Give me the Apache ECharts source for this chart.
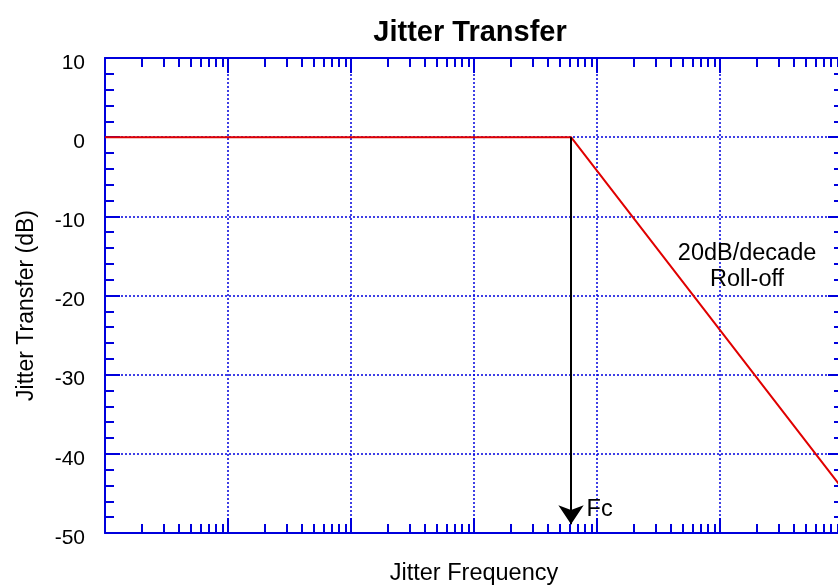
<!DOCTYPE html>
<html>
<head>
<meta charset="utf-8">
<script src="https://cdn.jsdelivr.net/npm/echarts@6/dist/echarts.min.js"></script>
<style>
  html, body { margin: 0; padding: 0; background: #fff; overflow: hidden; }
  /* the original plot runs a few pixels past the right edge of the picture */
  #wrap { width: 838px; height: 587px; overflow: hidden; position: relative; }
  #main { width: 845px; height: 587px; }
</style>
</head>
<body>
<div id="wrap"><div id="main"></div></div>
<script>
// jitter transfer: flat up to Fc, then 20 dB/decade roll-off
var freq = [1, 6150, 1000000];
var gainDb = [0, 0, -44.5];

var fc = 6150;
var fcArrowEnd = -48.9;

var yMin = -50, yMax = 10, yStep = 10;
var xMin = 1, xMax = 1000000;

// annotation anchors [freq, dB]
var fcLabelAt = [fc, -47];
var rollLabelAt = [166000, -16.3];

var blue = '#0000dd';
var font = 'Liberation Sans, Arial, sans-serif';

var chartDom = document.getElementById('main');
var myChart = echarts.init(chartDom);
var option;

function xAxis(pos, split) {
  return {
    type: 'log',
    logBase: 10,
    min: xMin,
    max: xMax,
    position: pos,
    name: pos === 'bottom' ? 'Jitter Frequency' : '',
    nameLocation: 'middle',
    nameGap: 29,
    nameTextStyle: { fontFamily: font, fontSize: 23.5, color: '#000' },
    axisLine: { show: true, onZero: false, lineStyle: { color: blue, width: 2 } },
    axisTick: { show: true, inside: true, length: 15, lineStyle: { color: blue, width: 2 } },
    minorTick: { show: true, splitNumber: 9, length: 9, lineStyle: { color: blue, width: 2 } },
    axisLabel: { show: false },
    splitLine: { show: split, lineStyle: { color: blue, width: 1.5, type: [2, 2] } }
  };
}

function yAxis(pos, labels) {
  return {
    type: 'value',
    min: yMin,
    max: yMax,
    interval: yStep,
    position: pos,
    name: labels ? 'Jitter Transfer (dB)' : '',
    nameLocation: 'middle',
    nameGap: 67,
    nameTextStyle: { fontFamily: font, fontSize: 23, color: '#000', padding: [0, 20, 0, 0] },
    axisLine: { show: true, onZero: false, lineStyle: { color: blue, width: 2 } },
    axisTick: { show: true, inside: true, length: 15, lineStyle: { color: blue, width: 2 } },
    minorTick: { show: true, splitNumber: 5, length: 9, lineStyle: { color: blue, width: 2 } },
    axisLabel: {
      show: labels,
      margin: 20,
      formatter: function (v) { return '{v|' + v + '}'; },
      rich: { v: { fontFamily: font, fontSize: 21, color: '#000', padding: [10, 0, 0, 0] } }
    },
    splitLine: { show: labels, lineStyle: { color: blue, width: 1.5, type: [2, 2] } }
  };
}

option = {
  animation: false,
  backgroundColor: '#fff',
  title: {
    text: 'Jitter Transfer',
    left: 465,
    top: 13,
    textAlign: 'center',
    textStyle: { fontFamily: font, fontSize: 29, fontWeight: 'bold', color: '#000' }
  },
  grid: { left: 105, right: 2, top: 58, bottom: 54, outerBoundsMode: 'none' },
  xAxis: [xAxis('bottom', true), xAxis('top', false)],
  yAxis: [yAxis('left', true), yAxis('right', false)],
  series: [
    {
      type: 'line',
      xAxisIndex: 0,
      yAxisIndex: 0,
      data: freq.map(function (f, i) { return [f, gainDb[i]]; }),
      symbol: 'none',
      lineStyle: { color: '#e00000', width: 2 },
      markLine: {
        silent: true,
        symbol: ['none', 'arrow'],
        symbolSize: 19,
        label: { show: false },
        lineStyle: { color: '#000', width: 2, type: 'solid' },
        data: [[{ coord: [fc, 0] }, { coord: [fc, fcArrowEnd] }]]
      },
      markPoint: {
        silent: true,
        symbol: 'circle',
        symbolSize: 1,
        itemStyle: { color: 'rgba(0,0,0,0)' },
        label: { fontFamily: font, fontSize: 23.5, color: '#000' },
        data: [
          { coord: fcLabelAt, label: { position: 'right', distance: 15, formatter: 'Fc' } },
          { coord: rollLabelAt, label: { position: 'inside', align: 'center', lineHeight: 26, formatter: '20dB/decade\nRoll-off' } }
        ]
      }
    }
  ]
};

option && myChart.setOption(option);
</script>
</body>
</html>
